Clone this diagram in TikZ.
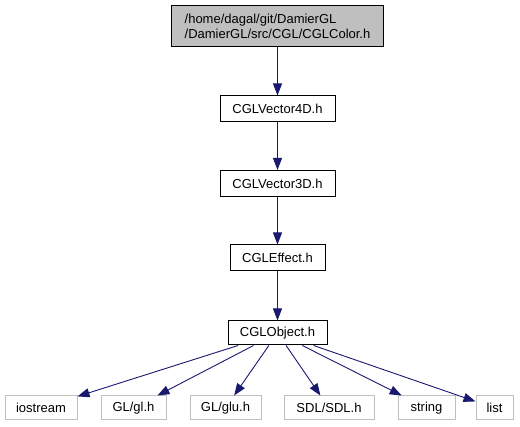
\documentclass[tikz,border=0pt]{standalone}
\usepackage{fontspec}
\setmainfont{Liberation Sans}
\usetikzlibrary{arrows.meta}

\definecolor{edgeblue}{RGB}{25,25,112}
\definecolor{boxgray}{RGB}{191,191,191}

\begin{document}
\begin{tikzpicture}[x=1pt, y=-1pt,
    every node/.style={font=\fontsize{13}{15}\selectfont, inner sep=0pt, align=center},
    header/.style={draw=black, line width=1pt, minimum height=24pt},
    sysheader/.style={draw=boxgray, line width=1pt, minimum height=24pt},
    incl/.style={draw=edgeblue, line width=0.9pt, -{Triangle[length=12pt,width=9pt]}}]
  % Page frame
  \useasboundingbox (0,0) rectangle (520,427);

  % Root file
  \node[draw=black, fill=boxgray, line width=1pt, align=left, minimum width=212pt, minimum height=41pt]
    (color) at (277.5,26.5) {/home/dagal/git/DamierGL\\/DamierGL/src/CGL/CGLColor.h};

  % Include chain
  \node[header, minimum width=115pt, minimum height=26pt] (vecfour) at (277.5,109) {CGLVector4D.h};
  \node[header, minimum width=115pt, minimum height=26pt] (vecthree) at (277.5,183.5) {CGLVector3D.h};
  \node[header, minimum width=95pt, minimum height=26pt] (effect) at (277.5,258) {CGLEffect.h};
  \node[header, minimum width=99pt] (object) at (277.5,333) {CGLObject.h};

  % System headers
  \node[sysheader, minimum width=72pt] (iostream) at (41,408) {iostream};
  \node[sysheader, minimum width=65pt] (gl) at (133.5,408) {GL/gl.h};
  \node[sysheader, minimum width=71pt] (glu) at (225.5,408) {GL/glu.h};
  \node[sysheader, minimum width=90pt] (sdl) at (329,408) {SDL/SDL.h};
  \node[sysheader, minimum width=57pt] (string) at (426.5,408) {string};
  \node[sysheader, minimum width=37pt] (list) at (494.5,408) {list};

  % Edges
  \draw[incl] (color) -- (vecfour);
  \draw[incl] (vecfour) -- (vecthree);
  \draw[incl] (vecthree) -- (effect);
  \draw[incl] (effect) -- (object);
  \foreach \dst in {iostream, gl, glu, sdl, string, list}
    \draw[incl] (object) -- (\dst);
\end{tikzpicture}
\end{document}
